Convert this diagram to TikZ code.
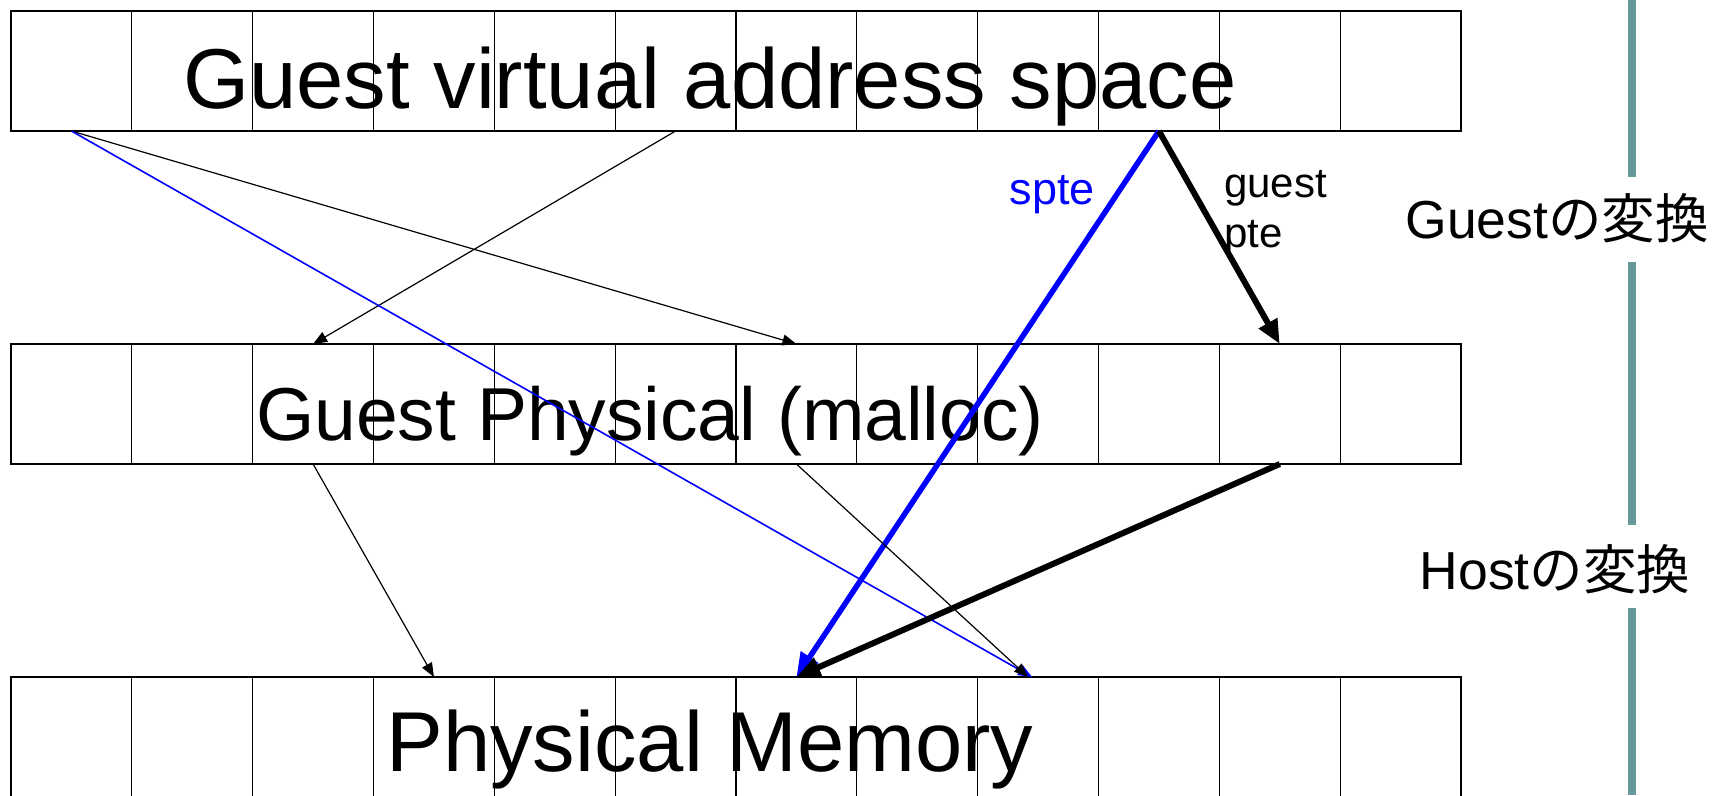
\documentclass[tikz,border=0pt]{standalone}
\usepackage{fontspec}
\setmainfont{Liberation Sans}
\newfontfamily\cjkfont{Noto Sans CJK JP}
\usetikzlibrary{arrows.meta}
\definecolor{barteal}{RGB}{102,153,153}
\begin{document}
\begin{tikzpicture}[x=1pt,y=-1pt,
  cell/.style={draw, line width=1.3pt, minimum width=120.83pt, minimum height=120pt, inner sep=0pt, outer sep=0pt},
  title/.style={inner sep=0pt, anchor=base},
  thinarr/.style={line width=1.2pt, -{Triangle[length=14pt,width=11pt]}},
  bluethin/.style={blue, line width=1.6pt, -{Triangle[length=14pt,width=11pt]}},
  thickarr/.style={line width=6pt, -{Triangle[length=24pt,width=20pt]}},
  bluethick/.style={blue, line width=5.5pt, -{Triangle[length=24pt,width=20pt]}},
  barline/.style={barteal, line width=8pt},
  sidelbl/.style={inner sep=0pt, anchor=base, font=\fontsize{53.5}{64}\selectfont},
  arrlbl/.style={inner sep=0pt, font=\fontsize{42}{50}\selectfont}
]
\useasboundingbox (0,0) rectangle (1712,795);
\fill[white] (0,0) rectangle (1712,795);
\foreach \k/\yy in {1/71,2/404,3/737}{
  \foreach \j in {0,...,11}{
    \node[cell] (r\k c\j) at ({11+120.833*(\j+0.5)},\yy) {};
  }
}
\node[title, font=\fontsize{85}{100}\selectfont] (t1) at (710,108) {Guest virtual address space};
\node[title, font=\fontsize{75}{90}\selectfont] (t2) at (650,440) {Guest Physical (malloc)};
\node[title, font=\fontsize{85}{100}\selectfont] (t3) at (710,771) {Physical Memory};

\draw[thinarr] (r1c0.south) -- (r2c6.north);
\draw[thinarr] (r1c5.south) -- (r2c2.north);
\draw[bluethin] (r1c0.south) -- ([xshift=-6pt]r3c8.north);
\draw[bluethick] (r1c9.south) -- (r3c6.north);
\draw[thickarr] (r1c9.south) -- (r2c10.north);
\draw[thinarr] (r2c2.south) -- (r3c3.north);
\draw[thinarr] (r2c6.south) -- ([xshift=-10pt]r3c8.north);
\draw[thickarr] (r2c10.south) -- (r3c6.north);

\node[arrlbl, blue, anchor=base east, font=\fontsize{45}{50}\selectfont] (spte) at (1095,204) {spte};
\node[arrlbl, anchor=base west, align=left] (gpte) at (1224,247) {guest\\pte};

\node[sidelbl] (glbl) at (1557,238) {Guest{\cjkfont の変換}};
\node[sidelbl] (hlbl) at (1555,589) {Host{\cjkfont の変換}};

\coordinate (b0) at (1631.5,0);
\coordinate (b1) at (1631.5,177);
\coordinate (b2) at (1631.5,262);
\coordinate (b3) at (1631.5,525);
\coordinate (b4) at (1631.5,608);
\coordinate (b5) at (1631.5,795);
\draw[barline] (b0) -- (b1);
\draw[barline] (b2) -- (b3);
\draw[barline] (b4) -- (b5);
\end{tikzpicture}
\end{document}
